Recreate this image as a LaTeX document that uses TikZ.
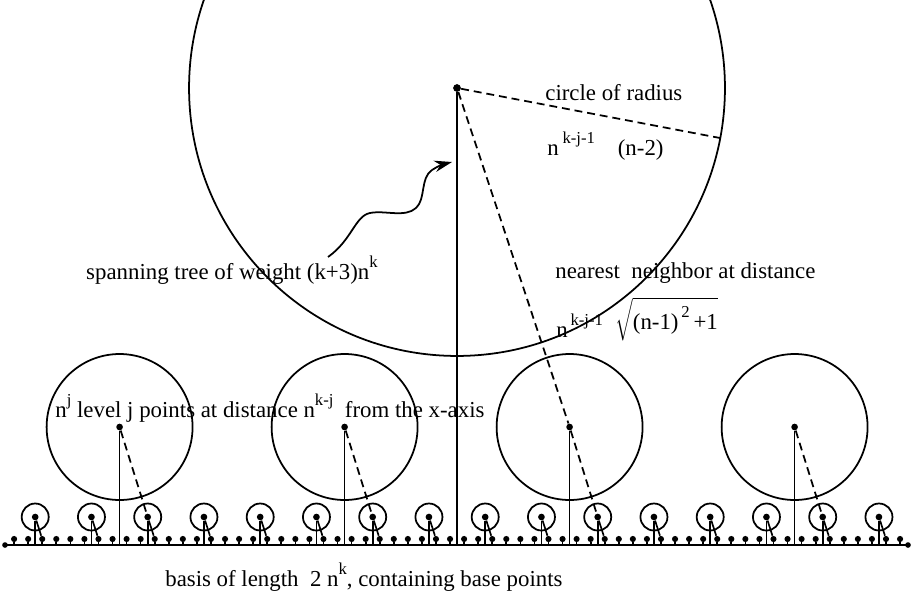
\documentclass[tikz,border=0pt]{standalone}
\usepackage{fontspec}
\setmainfont{Liberation Serif}
\usetikzlibrary{arrows.meta,calc}
\newcommand{\upidx}[1]{\raisebox{6.5pt}{\fontsize{9.5}{10}\selectfont #1}}
\tikzset{
  dotpt/.style={circle,fill=black,inner sep=0pt,minimum size=3.8pt},
  basept/.style={circle,fill=black,inner sep=0pt,minimum size=3.5pt},
  stem/.style={line width=0.95pt},
  nnlink/.style={line width=1pt,dash pattern=on 4.5pt off 2.8pt},
  ring/.style={line width=1pt},
  lbl/.style={font=\fontsize{13}{15}\selectfont,inner sep=0pt}
}
\begin{document}
\begin{tikzpicture}[x=0.02cm,y=-0.02cm]
  \useasboundingbox (0,0) rectangle (915,595);
  % x-axis
  \coordinate (axL) at (5,545);
  \coordinate (axR) at (908,545);
  \draw[line width=1.2pt] (axL) -- (axR);
  \fill (axL) circle (1.6pt) (axR) circle (1.6pt);
  % base points
  \foreach \i in {0,...,63}{
    \node[basept] (b\i) at ({14.1+14.0625*\i},539) {};
    \draw[stem] (b\i) -- (b\i |- axL);
  }
  % level 2
  \foreach \i in {0,...,15}{
    \node[dotpt] (c\i) at ({35.2+56.25*\i},517) {};
    \draw[ring] (c\i) circle (0.27cm);
    \draw[stem] (c\i) -- (c\i |- axL);
    \pgfmathtruncatemacro\j{4*\i+2}
    \draw[stem] (c\i) -- (b\j);
  }
  % level 1
  \foreach \i in {0,...,3}{
    \node[dotpt] (a\i) at ({119.6+225*\i},427) {};
    \draw[ring] (a\i) circle (1.46cm);
    \draw[stem] (a\i) -- (a\i |- axL);
    \pgfmathtruncatemacro\j{4*\i+2}
    \draw[nnlink] (a\i) -- (c\j);
  }
  % level 0
  \node[dotpt,minimum size=4.4pt] (top) at (457,88) {};
  \begin{scope}
    \clip (0,0) rectangle (915,595);
    \draw[ring] (top) circle (5.36cm);
  \end{scope}
  \draw[stem] (top) -- (top |- axL);
  \coordinate (rim) at ($(top)+(263,50)$);
  \draw[nnlink] (top) -- (rim);
  \draw[nnlink] (top) -- (a2);
  % wavy pointer
  \coordinate (wavetail) at (328,257);
  \coordinate (wavetip) at (452,162);
  \draw[line width=1pt,-{Stealth[length=10pt,width=6.5pt]}] (wavetail)
    .. controls (352,240) and (355,216) .. (370,213)
    .. controls (385,210) and (405,218) .. (416,208)
    .. controls (426,199) and (420,178) .. (432,170)
    .. controls (438,166) and (444,164) .. (wavetip);
  % labels
  \node[lbl,anchor=base west] (radlbl) at (545,100) {circle of radius};
  \node[lbl,anchor=base west] (radval) at (547,155) {n\,\upidx{k-j-1}\quad(n-2)};
  \node[lbl,anchor=base east] (spanlbl) at (378,279) {spanning tree of weight (k+3)n\upidx{k}};
  \node[lbl,anchor=base west] (nnlbl) at (555,278) {nearest\ \ neighbor at distance};
  \node[lbl,anchor=base west] (nnval) at (556,337) {n\upidx{\,k-j-1}};
  \node[lbl,anchor=base west] (nnroot) at (615,329) {$\sqrt{\rule[-4pt]{0pt}{18pt}\mbox{(n-1)\upidx{\,2}\,+1}}$};
  \node[lbl,anchor=base west] (lvlbl) at (55,417) {n\upidx{j} level j points at distance n\upidx{k-j}\ \ from the x-axis};
  \node[lbl,anchor=base west] (baselbl) at (165,586) {basis of length\ \ 2 n\upidx{k}, containing base points};
\end{tikzpicture}
\end{document}
